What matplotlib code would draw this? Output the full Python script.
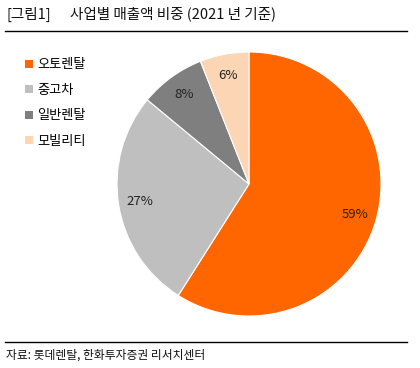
import matplotlib
matplotlib.use("Agg")
import matplotlib.pyplot as plt
from matplotlib.patches import Patch
from matplotlib.lines import Line2D

plt.rcParams['font.family'] = ['Noto Sans CJK KR', 'DejaVu Sans']

categories = ['오토렌탈', '중고차', '일반렌탈', '모빌리티']
values = [59, 27, 8, 6]
colors = ['#FF6600', '#BFBFBF', '#7F7F7F', '#FCD5B5']

fig = plt.figure(figsize=(4.2, 3.68), dpi=100)
W, H = 420, 368

ax = fig.add_axes([117 / W, 52 / H, 264 / W, 264 / H])
wedges, texts, autotexts = ax.pie(
    values, colors=colors, startangle=90, counterclock=False,
    autopct=lambda p: f'{p:.0f}%', pctdistance=0.84,
    wedgeprops=dict(edgecolor='white', linewidth=0.8),
    textprops=dict(fontsize=9.5, color='#222222'))
ax.set_aspect('equal')
ax.set_xlim(-1.0, 1.0)
ax.set_ylim(-1.0, 1.0)

# Title
fig.text(6 / W, 1 - 14 / H, '[그림1]', fontsize=10.5, va='center', ha='left', color='#111111')
fig.text(70 / W, 1 - 14 / H, '사업별 매출액 비중 (2021 년 기준)', fontsize=10.5, va='center', ha='left', color='#111111')
fig.add_artist(Line2D([5 / W, 407 / W], [1 - 31 / H, 1 - 31 / H], color='black', linewidth=1.0))

# Legend
handles = [Patch(facecolor=c, edgecolor='none') for c in colors]
leg = fig.legend(handles, categories, loc='upper left', bbox_to_anchor=(20 / W, 1 - 53 / H),
                 frameon=False, fontsize=9.5, handlelength=0.55, handleheight=0.55,
                 handletextpad=0.35, labelspacing=0.95, borderaxespad=0)

# Source
fig.add_artist(Line2D([5 / W, 407 / W], [1 - 342 / H, 1 - 342 / H], color='black', linewidth=1.0))
fig.text(6 / W, 1 - 355 / H, '자료: 롯데렌탈, 한화투자증권 리서치센터', fontsize=8.5, va='center', ha='left', color='#111111')

fig.savefig('out.png', dpi=100)
